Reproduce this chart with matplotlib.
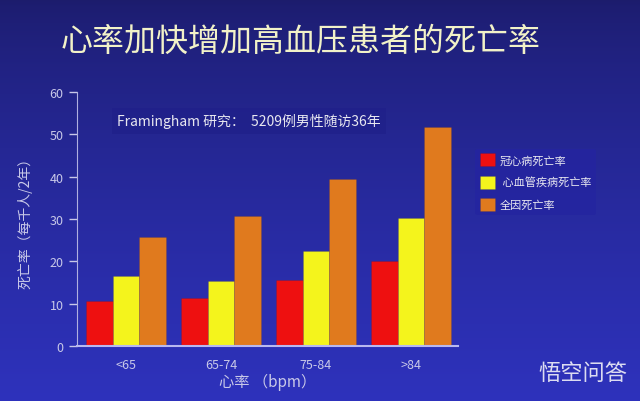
import numpy as np
import matplotlib
matplotlib.use("Agg")
import matplotlib.pyplot as plt

plt.rcParams['font.family'] = ['Noto Sans CJK SC', 'DejaVu Sans']

# 数据
categories = ["<65", "65-74", "75-84", ">84"]
chd = [10.5, 11.3, 15.6, 20.0]        # 冠心病死亡率
cvd = [16.5, 15.4, 22.5, 30.2]        # 心血管疾病死亡率
allcause = [25.8, 30.7, 39.5, 51.8]   # 全因死亡率
series_names = ["冠心病死亡率", " 心血管疾病死亡率", "全因死亡率"]
colors = ["#ee1010", "#f4f41c", "#e07a1e"]

fig = plt.figure(figsize=(6.4, 4.02), dpi=100)

# 背景渐变
bg = fig.add_axes([0, 0, 1, 1])
grad = np.linspace(0, 1, 256).reshape(-1, 1)
top = np.array([0x1c, 0x1c, 0x6c]) / 255
bot = np.array([0x2e, 0x32, 0xbc]) / 255
img = top + (bot - top) * grad[:, :, None] ** 0.7
bg.imshow(img, aspect="auto", extent=[0, 1, 0, 1])
bg.axis("off")

ax = fig.add_axes([0.120, 0.137, 0.596, 0.632])
ax.patch.set_alpha(0)

x = np.arange(len(categories))
w = 0.28
for i, (vals, c, name) in enumerate(zip([chd, cvd, allcause], colors, series_names)):
    ax.bar(x + (i - 1) * w, vals, w, color=c, edgecolor="#00000018",
           linewidth=0.5, label=name)

ax.set_xlim(-0.52, 3.5)
ax.set_ylim(0, 60)
ax.set_yticks(range(0, 61, 10))
ax.set_xticks(x)
ax.set_xticklabels(categories)
ax.tick_params(axis="y", colors="#c8c8e8", length=6, width=1, labelsize=9, direction="out")
ax.tick_params(axis="x", colors="#c8c8e8", length=0, labelsize=9, pad=9)
for s in ["top", "right"]:
    ax.spines[s].set_visible(False)
ax.spines["left"].set_color("#b0b0e0")
ax.spines["bottom"].set_color("#b8b8f0")
ax.spines["bottom"].set_linewidth(1.5)

ax.set_xlabel("心率 （bpm）", color="#c8c8e8", fontsize=11, labelpad=1)
ax.set_ylabel("死亡率（每千人/2年）", color="#c8c8e8", fontsize=10, labelpad=12)

fig.text(0.095, 0.895, "心率加快增加高血压患者的死亡率", color="#f2f2c8",
         fontsize=23, va="center", ha="left")

fig.text(0.183, 0.697, "Framingham 研究：  5209例男性随访36年", color="#e8e8f0",
         fontsize=10, va="center", ha="left",
         bbox=dict(boxstyle="square,pad=0.4", fc="#20208a", ec="none", alpha=0.8))

leg = ax.legend(loc="upper left", bbox_to_anchor=(1.045, 0.775), frameon=True,
                fontsize=8, labelcolor="#e8e8f0", handlelength=1.4, handleheight=1.4,
                borderaxespad=0, labelspacing=0.85, handletextpad=0.4)
leg.get_frame().set_facecolor("#2424a0")
leg.get_frame().set_edgecolor("none")

fig.text(0.98, 0.07, "悟空问答", color="#f0f0f8", fontsize=16, ha="right", va="center",
         alpha=0.9)

fig.savefig("out.png", dpi=100)
